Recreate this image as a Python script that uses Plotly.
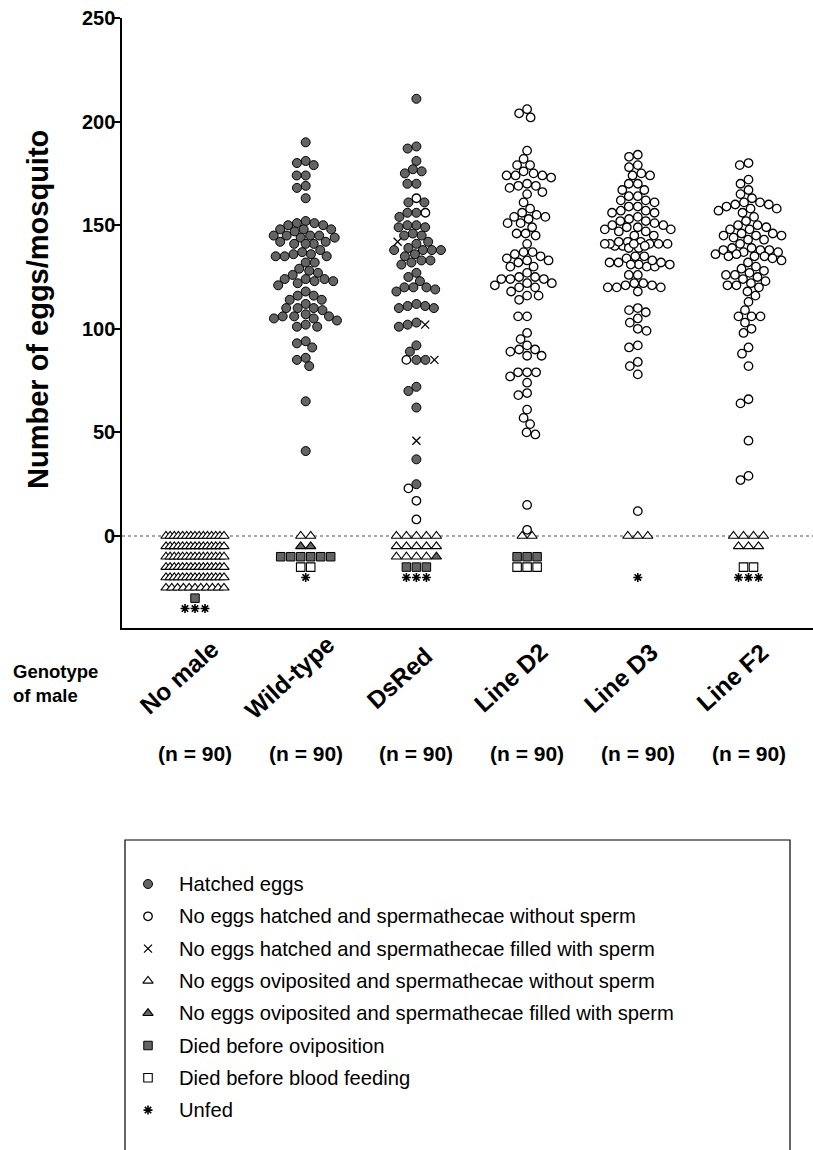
import math
import plotly.graph_objects as go

# ---------------- data ----------------
genotypes = ["No male", "Wild-type", "DsRed", "Line D2", "Line D3", "Line F2"]
n_labels = ["(n = 90)", "(n = 90)", "(n = 90)", "(n = 90)", "(n = 90)", "(n = 90)"]
y_ticks = [0, 50, 100, 150, 200, 250]

wt_hatched = [190, 181, 180, 179, 174, 174, 169, 168, 163,
              152, 151, 151, 150, 150, 148, 148, 148,
              145, 145, 145, 145, 144, 144, 147,
              141, 141, 141, 142, 142,
              136, 136, 135, 135, 135, 137, 138,
              132, 132, 128, 127, 129,
              126, 124, 124, 124, 123, 123, 122, 121,
              118, 116, 116, 114, 114, 112,
              110, 110, 110, 109,
              107, 104, 106, 106, 106, 105, 105,
              101, 101, 102,
              94, 91, 93, 85, 82, 86, 65, 41]

dsred_hatched = [211, 188, 187, 181, 176, 175, 177, 170, 170, 161, 161,
                 154, 156, 156, 150, 149, 149, 150, 146,
                 145, 145, 141, 142,
                 139, 138, 138, 136, 138, 138,
                 135, 133, 131, 132, 133,
                 125, 127, 123,
                 120, 120, 118, 119, 120,
                 111, 110, 110, 111, 112,
                 102, 101, 103,
                 92, 89, 85, 85, 72, 70, 62, 37, 25]
dsred_open = [163, 156, 85, 23, 17, 8]
dsred_x = [142, 102, 85, 46]

d2_open = [206, 204, 202, 186, 182, 179, 179,
           175, 174, 173, 174, 174, 176,
           169, 168, 166, 165, 169, 170,
           161, 158, 156,
           154, 153, 151, 151, 154, 155,
           149, 146, 146, 145, 141, 137, 137, 136,
           133, 132, 130, 135, 130, 133, 134,
           125, 125, 127,
           124, 122, 120, 120, 121, 122, 124, 124,
           118, 116, 114, 116,
           106, 106,
           98, 95, 90, 92, 87, 87, 89, 90,
           79, 79, 74, 77, 79,
           69, 68, 61, 57, 49, 50, 54, 15, 3]

d3_open = [184, 183, 178, 179, 174, 174, 175,
           170, 167, 167, 170,
           164, 162, 161, 162, 164,
           159, 157, 156, 156, 157, 159,
           153, 152, 150, 150, 151, 152, 154,
           149, 148, 147, 145, 145, 147, 148, 149,
           142, 141, 140, 141, 139, 142, 140, 142, 140, 141, 139, 141, 141, 141,
           135, 135,
           134, 132, 131, 130, 130, 131, 132, 132, 133, 131,
           126, 126,
           122, 121, 120, 120, 118, 120, 121, 122,
           109, 110, 108, 105, 103, 99, 100, 92, 91, 82, 84, 78, 12]

f2_open = [180, 179, 170, 172, 167, 165,
           161, 160, 158, 159, 156, 160, 161, 157, 158, 163,
           154,
           150, 149, 148, 148, 150, 152,
           146, 145, 145, 143, 143, 141, 144, 145, 146,
           138, 138, 139, 137, 137, 138, 139,
           136, 135, 135, 135, 136,
           133, 132, 134,
           129, 127, 125, 123, 120,
           126, 126, 128, 130,
           121, 121, 122, 124,
           116, 118, 113,
           109, 106, 106, 106,
           103, 100, 98, 91, 88, 82,
           64, 66, 46, 27, 29]

# categorical outcomes drawn below zero: (level, kind, count)
nomale_rows = [(0, "tri_open", 15), (-5, "tri_open", 15), (-10, "tri_open", 15),
               (-15, "tri_open", 15), (-20, "tri_open", 15), (-25, "tri_open", 11),
               (-30, "sq_fill", 1), (-35, "unfed", 3)]
wt_rows = [(0, "tri_open", 2), (-5, "tri_fill", 2), (-10, "sq_fill", 6),
           (-15, "sq_open", 2), (-20, "unfed", 1)]
dsred_rows = [(0, "tri_open", 5), (-5, "tri_open", 5), (-10, "tri_open", 4),
              (-10, "tri_fill", 1), (-15, "sq_fill", 3), (-20, "unfed", 3)]
d2_rows = [(0, "tri_open", 2), (-10, "sq_fill", 3), (-15, "sq_open", 3)]
d3_rows = [(0, "tri_open", 3), (-20, "unfed", 1)]
f2_rows = [(0, "tri_open", 4), (-5, "tri_open", 3), (-15, "sq_open", 2), (-20, "unfed", 3)]

circle_data = [
    [],
    [("hatched", wt_hatched)],
    [("hatched", dsred_hatched), ("open", dsred_open), ("x", dsred_x)],
    [("open", d2_open)],
    [("open", d3_open)],
    [("open", f2_open)],
]
row_data = [nomale_rows, wt_rows, dsred_rows, d2_rows, d3_rows, f2_rows]

legend_labels = ["Hatched eggs",
                 "No eggs hatched and spermathecae without sperm",
                 "No eggs hatched and spermathecae filled with sperm",
                 "No eggs oviposited and spermathecae without sperm",
                 "No eggs oviposited and spermathecae filled with sperm",
                 "Died before oviposition",
                 "Died before blood feeding",
                 "Unfed"]
kinds = ["hatched", "open", "x", "tri_open", "tri_fill", "sq_fill", "sq_open", "unfed"]

# ---------------- layout geometry ----------------
W, H = 813, 1150
PL, PR, PT, PB = 122, 813, 18, 628
YMIN, YMAX = -44.4, 250
KY = (PB - PT) / (YMAX - YMIN)          # px per y unit
KX = 110.7                             # px per category
X0 = -(195 - PL) / KX
X1 = X0 + (PR - PL) / KX

GREY = "#646464"
FONT = "Liberation Sans, Arial, Helvetica, sans-serif"

styles = {
    "hatched": dict(symbol="circle", size=9, color=GREY, line=dict(color="black", width=1)),
    "open": dict(symbol="circle", size=8.5, color="white", line=dict(color="black", width=1.3)),
    "x": dict(symbol="x-thin-open", size=8, color="black", line=dict(color="black", width=1.3)),
    "tri_open": dict(symbol="triangle-up", size=9, color="white", line=dict(color="black", width=1.1)),
    "tri_fill": dict(symbol="triangle-up", size=9, color=GREY, line=dict(color="black", width=1.1)),
    "sq_fill": dict(symbol="square", size=8.5, color=GREY, line=dict(color="black", width=1)),
    "sq_open": dict(symbol="square", size=8.5, color="white", line=dict(color="black", width=1.1)),
    "unfed": dict(symbol="asterisk-open", size=7.5, color="black", line=dict(color="black", width=1.6)),
}


def swarm(vals, d=9.0, maxw=33.0):
    idx = sorted(range(len(vals)), key=lambda i: -vals[i])
    placed = []
    offs = [0.0] * len(vals)
    for i in idx:
        y = vals[i] * KY
        iv = []
        for (px_, py_) in placed:
            dy = abs(y - py_)
            if dy < d:
                w = math.sqrt(d * d - dy * dy)
                iv.append((px_ - w, px_ + w))
        cands = [0.0] + [a for a, _ in iv] + [b for _, b in iv]
        cands = sorted(cands, key=lambda c: (abs(c), c))
        chosen = None
        for c in cands:
            if abs(c) > maxw + 1e-6:
                continue
            if all(not (a + 1e-6 < c < b - 1e-6) for a, b in iv):
                chosen = c
                break
        if chosen is None:
            best, bestd = 0, -1
            for t in range(-int(maxw), int(maxw) + 1):
                md = min((math.hypot(t - px_, y - py_) for px_, py_ in placed), default=99)
                if md > bestd:
                    bestd, best = md, t
            chosen = best
        offs[i] = chosen
        placed.append((chosen, y))
    return offs


pts = {k: ([], []) for k in kinds}
for gi in range(len(genotypes)):
    allv, allk = [], []
    for k, vals in circle_data[gi]:
        for v in vals:
            allv.append(v)
            allk.append(k)
    offs = swarm(allv)
    for v, k, o in zip(allv, allk, offs):
        pts[k][0].append(gi + o / KX)
        pts[k][1].append(v)
    levels = {}
    for lvl, k, c in row_data[gi]:
        levels.setdefault(lvl, []).extend([k] * c)
    for lvl, ks in levels.items():
        n = len(ks)
        s = 10.0 if n < 2 else min(10.0, 58.0 / (n - 1))
        for j, k in enumerate(ks):
            off = (j - (n - 1) / 2) * s
            pts[k][0].append(gi + off / KX)
            pts[k][1].append(lvl)

fig = go.Figure()
for k, lab in zip(kinds, legend_labels):
    st = styles[k]
    fig.add_trace(go.Scatter(
        x=pts[k][0], y=pts[k][1], mode="markers", name=lab, showlegend=False,
        marker=dict(symbol=st["symbol"], size=st["size"], color=st["color"], line=st["line"]),
        cliponaxis=False, hoverinfo="y"))

# legend swatches (on a pixel-space overlay axis)
LEG_Y0, LEG_DY = 884, 32.3
for i, (k, lab) in enumerate(zip(kinds, legend_labels)):
    st = styles[k]
    fig.add_trace(go.Scatter(
        x=[148], y=[LEG_Y0 + i * LEG_DY], xaxis="x2", yaxis="y2", mode="markers",
        showlegend=False, hoverinfo="skip",
        marker=dict(symbol=st["symbol"], size=st["size"], color=st["color"], line=st["line"])))
    fig.add_annotation(x=177, y=LEG_Y0 + i * LEG_DY, xref="x2", yref="y2", text=lab,
                       showarrow=False, xanchor="left", yanchor="middle",
                       font=dict(family=FONT, size=20.2, color="black"))

fig.add_shape(type="rect", xref="x2", yref="y2", x0=125, x1=790, y0=840, y1=1160,
              line=dict(color="black", width=1.2), fillcolor="rgba(0,0,0,0)", layer="below")

# zero reference line
fig.add_shape(type="line", xref="x domain", yref="y", x0=0, x1=1, y0=0, y1=0,
              line=dict(color="#8a8a8a", width=1.5, dash="dot"), layer="below")

# y tick labels
for v in y_ticks:
    fig.add_annotation(x=117 / W, y=v, xref="paper", yref="y", text="<b>%d</b>" % v,
                       showarrow=False, xanchor="right", yanchor="middle",
                       font=dict(family=FONT, size=20, color="black"))

# category labels (rotated, centred)
for gi, g in enumerate(genotypes):
    fig.add_annotation(x=gi - 16 / KX, y=1 - 678 / H, xref="x", yref="paper",
                       text="<b>%s</b>" % g, textangle=-42, showarrow=False,
                       xanchor="center", yanchor="middle",
                       font=dict(family=FONT, size=24.5, color="black"))

# (n = ..) labels
for gi, lab in enumerate(n_labels):
    fig.add_annotation(x=gi, y=1 - 754 / H, xref="x", yref="paper", text="<b>%s</b>" % lab,
                       showarrow=False, xanchor="center", yanchor="middle",
                       font=dict(family=FONT, size=21, color="black"))

fig.add_annotation(x=11 / W, y=1 - 683 / H, xref="paper", yref="paper",
                   text="<b>Genotype<br>of male</b>", showarrow=False, xanchor="left",
                   yanchor="middle", align="left", font=dict(family=FONT, size=18.5, color="black"))

fig.add_annotation(x=38 / W, y=1 - 310 / H, xref="paper", yref="paper",
                   text="<b>Number of eggs/mosquito</b>", textangle=-90, showarrow=False,
                   xanchor="center", yanchor="middle", font=dict(family=FONT, size=29, color="black"))

fig.update_layout(
    width=W, height=H, margin=dict(l=0, r=0, t=0, b=0),
    paper_bgcolor="white", plot_bgcolor="rgba(0,0,0,0)", showlegend=False,
    xaxis=dict(domain=[PL / W, 1], range=[X0, X1], showgrid=False, zeroline=False,
               showline=True, linecolor="black", linewidth=2, ticks="",
               showticklabels=False),
    yaxis=dict(domain=[1 - PB / H, 1 - PT / H], range=[YMIN, YMAX], showgrid=False,
               zeroline=False, showline=True, linecolor="black", linewidth=2,
               ticks="outside", ticklen=6, tickwidth=2, tickcolor="black",
               tickvals=y_ticks, showticklabels=False),
    xaxis2=dict(domain=[0, 1], range=[0, W], visible=False, anchor="y2", fixedrange=True),
    yaxis2=dict(domain=[0, 1], range=[H, 0], visible=False, anchor="x2", fixedrange=True),
)

fig.write_html("out.html")
